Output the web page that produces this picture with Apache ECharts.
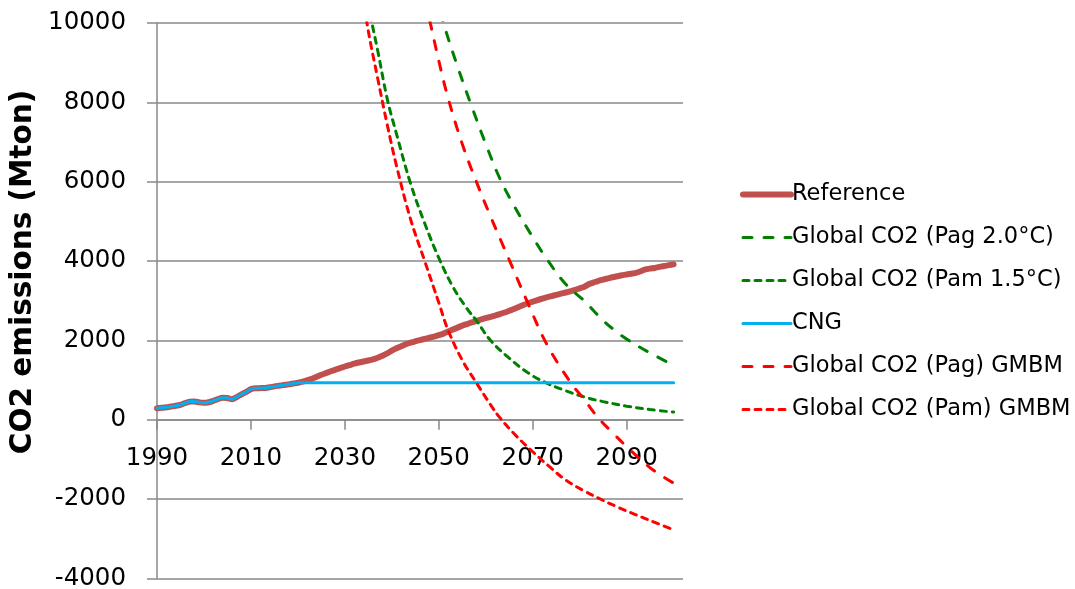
<!DOCTYPE html>
<html>
<head>
<meta charset="utf-8">
<script src="https://cdn.jsdelivr.net/npm/echarts@6/dist/echarts.min.js"></script>
<style>
  html, body { margin: 0; padding: 0; background: #ffffff; }
  #chart { width: 1075px; height: 589px; }
</style>
</head>
<body>
<div id="chart"></div>
<script>
// ---- data -------------------------------------------------------------
const firstYear = 1990;
const lastAxisYear = 2102;
const yTicks = { min: -4000, max: 10000, step: 2000 };

// Reference projection, one value per year 1990..2100 (Mton CO2)
const refValues = [
  290, 300, 310, 330, 350, 375, 420, 455, 460, 435,        // 1990-1999
  425, 440, 475, 520, 550, 545, 515, 570, 640, 700,        // 2000-2009
  770, 790, 795, 798, 815, 838, 855, 872, 890, 910,        // 2010-2019
  930, 960, 995, 1030, 1080, 1130, 1175, 1220, 1260, 1300, // 2020-2029
  1340, 1375, 1410, 1440, 1465, 1490, 1520, 1560, 1610, 1670, // 2030-2039
  1740, 1800, 1850, 1900, 1940, 1975, 2005, 2035, 2065, 2095, // 2040-2049
  2130, 2170, 2220, 2270, 2320, 2370, 2410, 2450, 2490, 2525, // 2050-2059
  2560, 2590, 2625, 2660, 2700, 2745, 2790, 2840, 2890, 2935, // 2060-2069
  2975, 3015, 3050, 3085, 3115, 3145, 3175, 3205, 3235, 3270, // 2070-2079
  3310, 3350, 3420, 3460, 3500, 3530, 3560, 3590, 3615, 3640, // 2080-2089
  3660, 3680, 3700, 3740, 3790, 3810, 3825, 3850, 3875, 3895, // 2090-2099
  3915                                                      // 2100
];

// CNG: follows the historic path, then a flat cap
const cngYears  = [1990, 1991, 1992, 1993, 1994, 1995, 1996, 1997, 1998, 1999,
                   2000, 2001, 2002, 2003, 2004, 2005, 2006, 2007, 2008, 2009,
                   2010, 2011, 2012, 2013, 2014, 2015, 2016, 2017, 2018, 2019,
                   2020, 2100];
const cngValues = [290, 300, 310, 330, 350, 375, 420, 455, 460, 435,
                   425, 440, 475, 520, 550, 545, 515, 570, 640, 700,
                   770, 790, 795, 798, 815, 838, 855, 872, 890, 910,
                   930, 930];

// Global CO2 budget (Pag 2.0°C)
const pag20Years  = [2048, 2051, 2054, 2057, 2060, 2063, 2066, 2070, 2073, 2077, 2081, 2085, 2088, 2090, 2095, 2100];
const pag20Values = [11300, 10000, 8900, 7900, 6950, 6080, 5400, 4600, 4050, 3420, 2990, 2500, 2200, 2030, 1680, 1370];

// Global CO2 budget (Pam 1.5°C)
const pam15Years  = [2033, 2035, 2037, 2039, 2041, 2044, 2047, 2050, 2053, 2056, 2058, 2061, 2065, 2069, 2073, 2077, 2081, 2085, 2090, 2095, 2100];
const pam15Values = [11400, 10400, 9300, 8100, 7200, 5950, 4950, 4080, 3350, 2800, 2500, 2000, 1550, 1180, 920, 730, 570, 455, 340, 255, 190];

// Global CO2 (Pag) GMBM
const pagGmbmYears  = [2046, 2048, 2050, 2052, 2055, 2058, 2061, 2065, 2069, 2073, 2078, 2081, 2084, 2087, 2090, 2093, 2096, 2100];
const pagGmbmValues = [11100, 10100, 9050, 8100, 6950, 6000, 5130, 4030, 2930, 1900, 950, 500, 40, -330, -680, -1010, -1300, -1600];

// Global CO2 (Pam) GMBM
const pamGmbmYears  = [2033, 2035, 2037, 2039, 2041, 2044, 2047, 2050, 2052, 2055, 2058, 2061, 2063, 2066, 2070, 2074, 2077, 2081, 2084, 2088, 2092, 2096, 2100];
const pamGmbmValues = [11300, 9800, 8600, 7450, 6400, 5050, 4000, 2950, 2250, 1500, 930, 380, 50, -350, -810, -1230, -1520, -1800, -1980, -2200, -2400, -2590, -2780];

// ---- helpers ------------------------------------------------------------
const categories = [];
for (let y = firstYear; y <= lastAxisYear; y++) categories.push(String(y));

function pairs(years, values) {
  return years.map((y, i) => [String(y), values[i]]);
}
const refYears = refValues.map((_, i) => firstYear + i);

const FONT = 'DejaVu Sans';
const LONG_DASH = [9, 12];
const SHORT_DASH = [6, 6];
const AXIS_GRAY = '#898989';

// plot box
const GRID = { left: 157, right: 392, top: 23, bottom: 10.7 };
const plotHeight = 589 - GRID.top - GRID.bottom;
// the category axis sits on the zero line of the value axis
const zeroOffset = -plotHeight * (0 - yTicks.min) / (yTicks.max - yTicks.min);

function curve(name, years, values, color, dash) {
  return {
    name, type: 'line', data: pairs(years, values),
    showSymbol: false, symbol: 'none', smooth: 0.4,
    lineStyle: { color, width: 3, type: dash, cap: 'round' },
    itemStyle: { color }
  };
}

function legendItem(name, width) {
  return { name, lineStyle: { width }, itemStyle: { opacity: 0, borderWidth: 0 } };
}

// ---- chart ------------------------------------------------------------
const chart = echarts.init(document.getElementById('chart'), null, { renderer: 'canvas' });

chart.setOption({
  animation: false,
  backgroundColor: '#ffffff',
  grid: Object.assign({ containLabel: false, outerBoundsMode: 'none' }, GRID),
  xAxis: {
    type: 'category',
    data: categories,
    boundaryGap: false,
    position: 'bottom',
    offset: zeroOffset,
    axisLine: { onZero: false, lineStyle: { color: AXIS_GRAY, width: 1.5 } },
    axisTick: { show: true, interval: 19, length: 10, lineStyle: { color: AXIS_GRAY, width: 1.5 } },
    axisLabel: { interval: 19, margin: 26, color: '#000', fontFamily: FONT, fontSize: 24.5 },
    splitLine: { show: false }
  },
  yAxis: {
    type: 'value',
    min: yTicks.min, max: yTicks.max, interval: yTicks.step,
    axisLine: { show: true, lineStyle: { color: AXIS_GRAY, width: 1.5 } },
    axisTick: { show: true, length: 10, inside: false, lineStyle: { color: AXIS_GRAY, width: 1.5 } },
    axisLabel: { margin: 31, color: '#000', fontFamily: FONT, fontSize: 24.5, formatter: v => String(v) },
    splitLine: { show: true, lineStyle: { color: AXIS_GRAY, width: 1.5 } }
  },
  legend: {
    orient: 'vertical',
    left: 735, top: 178,
    itemWidth: 48, itemHeight: 14, itemGap: 20,
    itemStyle: { opacity: 0, borderWidth: 0 },
    textStyle: { fontFamily: FONT, fontSize: 22.5, color: '#000', padding: [0, 0, 0, -4] },
    data: [
      legendItem('Reference', 6),
      legendItem('Global CO2 (Pag 2.0°C)', 3),
      legendItem('Global CO2 (Pam 1.5°C)', 3),
      legendItem('CNG', 3),
      legendItem('Global CO2 (Pag) GMBM', 3),
      legendItem('Global CO2 (Pam) GMBM', 3)
    ]
  },
  graphic: [{
    type: 'text',
    x: 23, y: 272,
    rotation: Math.PI / 2,
    style: {
      text: 'CO2 emissions (Mton)',
      font: 'bold 29.5px "DejaVu Sans"',
      fill: '#000',
      textAlign: 'center',
      textVerticalAlign: 'middle'
    }
  }],
  series: [
    {
      name: 'Reference', type: 'line', data: pairs(refYears, refValues),
      showSymbol: false, symbol: 'none', smooth: 0.2,
      lineStyle: { color: '#C0504D', width: 6, cap: 'round', join: 'round' },
      itemStyle: { color: '#C0504D' }
    },
    curve('Global CO2 (Pag 2.0°C)', pag20Years, pag20Values, '#008000', LONG_DASH),
    curve('Global CO2 (Pam 1.5°C)', pam15Years, pam15Values, '#008000', SHORT_DASH),
    {
      name: 'CNG', type: 'line', data: pairs(cngYears, cngValues),
      showSymbol: false, symbol: 'none', smooth: 0.2,
      lineStyle: { color: '#00B0F0', width: 3, cap: 'round', join: 'round' },
      itemStyle: { color: '#00B0F0' }
    },
    curve('Global CO2 (Pag) GMBM', pagGmbmYears, pagGmbmValues, '#FF0000', LONG_DASH),
    curve('Global CO2 (Pam) GMBM', pamGmbmYears, pamGmbmValues, '#FF0000', SHORT_DASH)
  ]
});
</script>
</body>
</html>
